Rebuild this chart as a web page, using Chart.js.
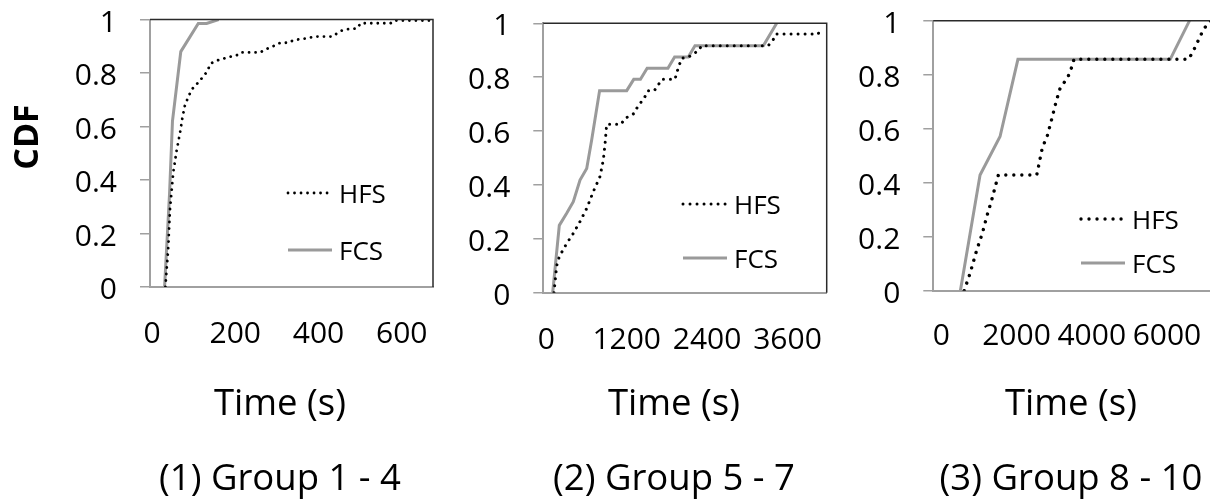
<!DOCTYPE html>
<html>
<head>
<meta charset="utf-8">
<title>CDF of job time</title>
<script src="https://cdn.jsdelivr.net/npm/chart.js@4.4.1/dist/chart.umd.min.js"></script>
<style>
  html, body { margin: 0; padding: 0; background: #fff; overflow: hidden; }
  #wrap { position: relative; width: 1210px; height: 502px; overflow: hidden; }
  canvas { position: absolute; left: 0; top: 0; }
</style>
</head>
<body>
<div id="wrap">
  <canvas id="c1" width="1230" height="502"></canvas>
  <canvas id="c2" width="1230" height="502"></canvas>
  <canvas id="c3" width="1230" height="502"></canvas>
</div>
<script>
// ---- data (time in seconds, cumulative fraction) ----
const yTicks = [0, 0.2, 0.4, 0.6, 0.8, 1];

// (1) Group 1 - 4
const xTicks1 = [0, 200, 400, 600];
const hfsTime1 = [37, 44, 48, 56, 64, 72, 78, 84, 94, 104, 116, 137, 146, 165, 189, 209, 217, 265, 277, 297,
                  313, 333, 345, 378, 394, 438, 458, 470, 498, 506, 578, 586, 671];
const hfsCdf1  = [0, 0.15, 0.29, 0.43, 0.51, 0.575, 0.634, 0.68, 0.718, 0.746, 0.764, 0.805, 0.836, 0.849, 0.859, 0.867, 0.877, 0.877, 0.888, 0.901,
                  0.913, 0.913, 0.923, 0.930, 0.936, 0.936, 0.957, 0.963, 0.967, 0.986, 0.986, 0.996, 0.996];
const fcsTime1 = [35, 47, 54, 74, 116, 136, 165];
const fcsCdf1  = [0, 0.35, 0.62, 0.88, 0.985, 0.985, 1];

// (2) Group 5 - 7
const xTicks2 = [0, 1200, 2400, 3600];
const hfsTime2 = [159, 200, 239, 349, 448, 548, 648, 746, 846, 896, 921, 946, 1160, 1219, 1354, 1403, 1518, 1567, 1657, 1716,
                  1767, 1966, 1991, 2030, 2066, 2164, 2324, 2360, 3358, 3433, 3473, 4104, 4135];
const hfsCdf2  = [0, 0.1, 0.134, 0.183, 0.22, 0.264, 0.313, 0.375, 0.431, 0.493, 0.55, 0.625, 0.625, 0.647, 0.665, 0.688, 0.728, 0.75, 0.75, 0.771,
                  0.792, 0.792, 0.816, 0.845, 0.87, 0.874, 0.9, 0.917, 0.917, 0.94, 0.96, 0.96, 0.983];
const fcsTime2 = [140, 239, 349, 448, 548, 648, 722, 840, 1245, 1350, 1450, 1550, 1860, 1960, 2164, 2264, 3284, 3483];
const fcsCdf2  = [0, 0.25, 0.295, 0.338, 0.418, 0.461, 0.567, 0.75, 0.75, 0.792, 0.792, 0.833, 0.833, 0.875, 0.875, 0.917, 0.917, 1];

// (3) Group 8 - 10
const xTicks3 = [0, 2000, 4000, 6000];
const hfsTime3 = [820, 977, 1154, 1305, 1420, 1553, 1730, 2751, 2900, 3034, 3150, 3265, 3372, 3576, 3683, 3740,
                  6786, 6902, 7008, 7097, 7204, 7380];
const hfsCdf3  = [0, 0.064, 0.15, 0.213, 0.274, 0.336, 0.4286, 0.4286, 0.53, 0.575, 0.636, 0.7, 0.75, 0.79, 0.829, 0.857,
                  0.857, 0.885, 0.916, 0.943, 0.972, 1];
const fcsTime3 = [720, 1243, 1775, 2250, 6299, 6813];
const fcsCdf3  = [0, 0.4286, 0.571, 0.857, 0.857, 1];

// ---- styling ----
const FONT = "'Open Sans', sans-serif";
const AXIS_GRAY = '#a0a0a0';
const FCS_GRAY = '#9a9a9a';
Chart.defaults.font.family = FONT;
Chart.defaults.color = '#000';

const toPoints = (xs, ys) => xs.map((x, i) => ({ x, y: ys[i] }));

// frame (top/right), in-plot legend and captions
const panelDecor = {
  id: 'panelDecor',
  afterDraw(chart, args, o) {
    const { ctx, chartArea: a } = chart;
    ctx.save();
    ctx.strokeStyle = '#2a2a2a';
    ctx.lineWidth = 1.5;
    ctx.beginPath();
    ctx.moveTo(a.left, a.top);
    ctx.lineTo(a.right, a.top);
    ctx.lineTo(a.right, a.bottom);
    ctx.stroke();

    ctx.font = '26px ' + FONT;
    ctx.textBaseline = 'middle';
    ctx.fillStyle = '#000';
    chart.data.datasets.forEach((ds, i) => {
      const y = o.legendY[i];
      ctx.beginPath();
      ctx.setLineDash(ds.borderDash || []);
      ctx.lineCap = ds.borderCapStyle || 'butt';
      ctx.lineWidth = ds.borderWidth;
      ctx.strokeStyle = ds.borderColor;
      ctx.moveTo(o.legendX, y);
      ctx.lineTo(o.legendX + 44, y);
      ctx.stroke();
      ctx.setLineDash([]);
      ctx.fillText(ds.label, o.legendX + 51, y + 3);
    });

    ctx.textAlign = 'center';
    ctx.font = '36.5px ' + FONT;
    ctx.fillText('Time (s)', o.captionX, 405);
    ctx.fillText(o.caption, o.captionX, 480);

    if (o.yTitle) {
      ctx.translate(28, 137);
      ctx.rotate(-Math.PI / 2);
      ctx.font = 'bold 34px ' + FONT;
      ctx.fillText(o.yTitle, 0, 0);
    }
    ctx.restore();
  }
};

function makePanel(id, p) {
  const dotted = {
    label: 'HFS',
    data: toPoints(p.hfsTime, p.hfsCdf),
    borderColor: '#000',
    borderWidth: p.dot,
    borderDash: [0.01, p.gap],
    borderCapStyle: 'round',
  };
  const solid = {
    label: 'FCS',
    data: toPoints(p.fcsTime, p.fcsCdf),
    borderColor: FCS_GRAY,
    borderWidth: 3,
    borderCapStyle: 'butt',
  };
  [dotted, solid].forEach(d => Object.assign(d, { showLine: true, pointRadius: 0, tension: 0, fill: false }));

  return new Chart(document.getElementById(id), {
    type: 'scatter',
    data: { datasets: [dotted, solid] },
    options: {
      responsive: false,
      animation: false,
      devicePixelRatio: 1,
      layout: { padding: { left: 0, top: p.top, right: 1230 - p.right, bottom: 0 } },
      plugins: {
        legend: { display: false },
        tooltip: { enabled: false },
        panelDecor: {
          legendX: p.legendX, legendY: p.legendY,
          captionX: p.captionX, caption: p.caption, yTitle: p.yTitle
        }
      },
      scales: {
        x: {
          type: 'linear',
          min: 0,
          max: p.xMax,
          afterFit: s => {
            s.height = 502 - p.bottom;
            s.paddingLeft = 0;
            s.paddingRight = 0;
          },
          afterBuildTicks: s => { s.ticks = p.xTicks.map(v => ({ value: v })); },
          ticks: {
            autoSkip: false, maxRotation: 0, includeBounds: false,
            padding: p.xPad, labelOffset: p.labelOffset,
            font: { size: 30 }, color: '#000',
            callback: v => String(v)
          },
          grid: { display: false, drawTicks: false },
          border: { display: true, color: AXIS_GRAY, width: 2 }
        },
        y: {
          min: 0,
          max: 1,
          afterFit: s => {
            s.width = p.left;
            s.paddingTop = 0;
            s.paddingBottom = 0;
          },
          afterBuildTicks: s => { s.ticks = yTicks.map(v => ({ value: v })); },
          ticks: {
            padding: 23, labelOffset: 3.5,
            font: { size: 30 }, color: '#000',
            callback: v => String(+v.toFixed(1))
          },
          grid: { drawOnChartArea: false, drawTicks: true, tickLength: 10, color: AXIS_GRAY, lineWidth: 1.5 },
          border: { display: true, color: AXIS_GRAY, width: 2 }
        }
      }
    },
    plugins: [panelDecor]
  });
}

makePanel('c1', {
  hfsTime: hfsTime1, hfsCdf: hfsCdf1, fcsTime: fcsTime1, fcsCdf: fcsCdf1, xTicks: xTicks1,
  xMax: 680, left: 150, right: 433, top: 19.5, bottom: 287, xPad: 29, labelOffset: 2,
  dot: 2.8, gap: 6.5,
  legendX: 288, legendY: [193, 250], captionX: 280, caption: '(1) Group 1 - 4', yTitle: 'CDF'
});
makePanel('c2', {
  hfsTime: hfsTime2, hfsCdf: hfsCdf2, fcsTime: fcsTime2, fcsCdf: fcsCdf2, xTicks: xTicks2,
  xMax: 4230, left: 543.3, right: 826.7, top: 23.3, bottom: 292.7, xPad: 30, labelOffset: 3,
  dot: 3, gap: 7,
  legendX: 683, legendY: [204, 258], captionX: 674, caption: '(2) Group 5 - 7'
});
makePanel('c3', {
  hfsTime: hfsTime3, hfsCdf: hfsCdf3, fcsTime: fcsTime3, fcsCdf: fcsCdf3, xTicks: xTicks3,
  xMax: 7530, left: 933.3, right: 1216.5, top: 20.7, bottom: 290.7, xPad: 28, labelOffset: 8,
  dot: 3.4, gap: 8,
  legendX: 1081, legendY: [219, 263], captionX: 1071, caption: '(3) Group 8 - 10'
});
</script>
</body>
</html>
